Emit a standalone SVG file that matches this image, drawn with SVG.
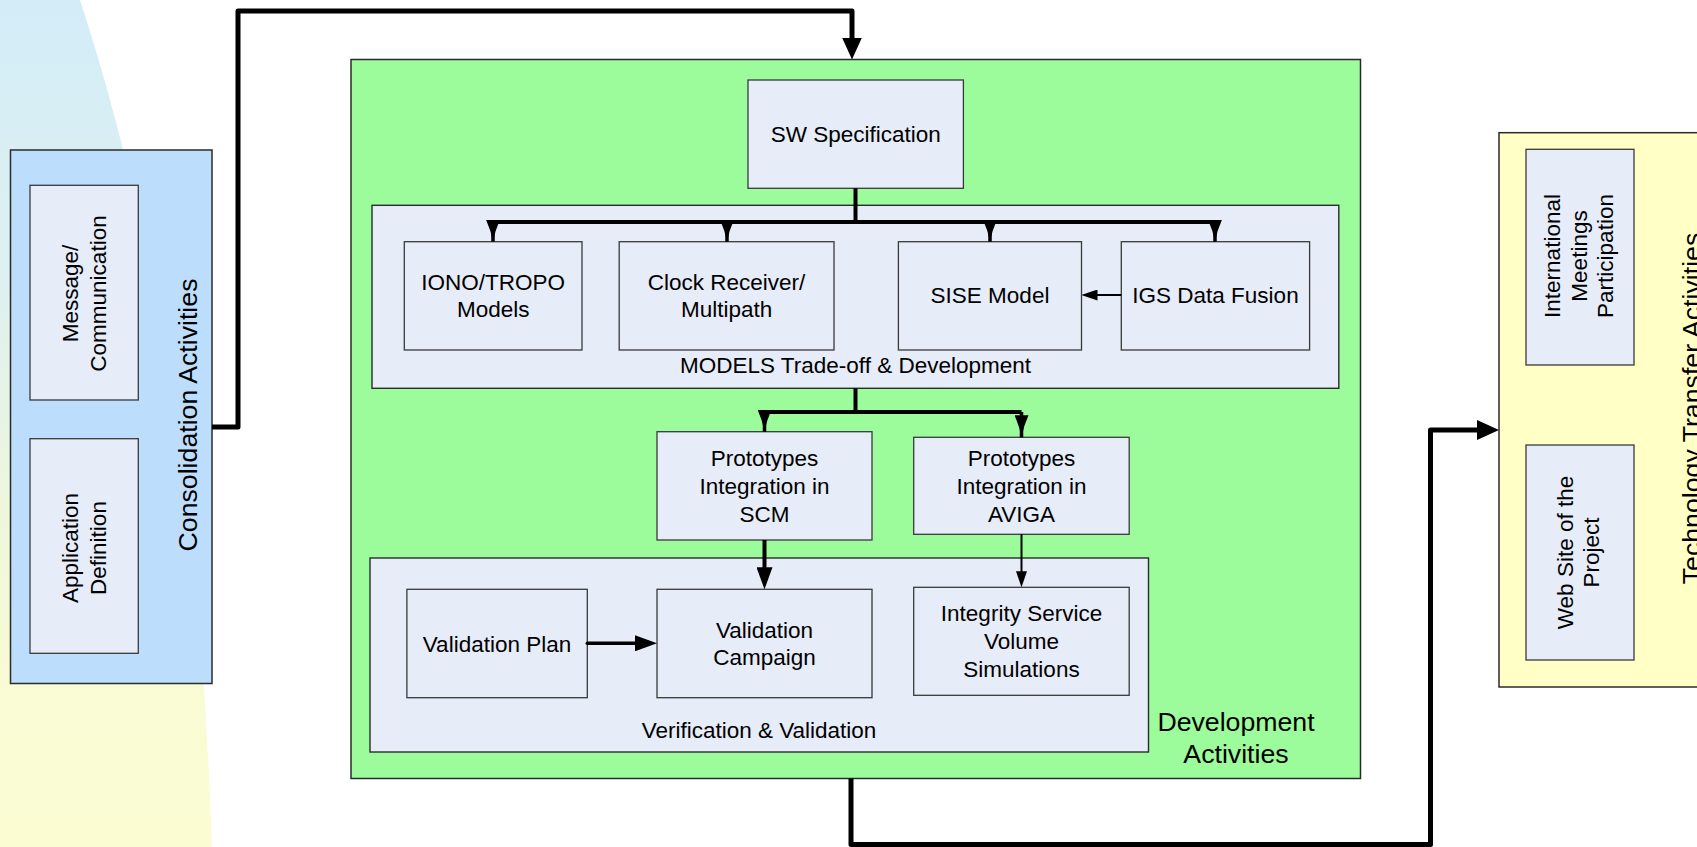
<svg xmlns="http://www.w3.org/2000/svg" width="1697" height="847" viewBox="0 0 1697 847">
  <defs>
    <linearGradient id="bgFade" gradientUnits="userSpaceOnUse" x1="0" y1="0" x2="0" y2="847">
      <stop offset="0" stop-color="#d3ecf8"/>
      <stop offset="0.35" stop-color="#def1ef"/>
      <stop offset="0.6" stop-color="#eef7dc"/>
      <stop offset="0.8" stop-color="#f8fbd4"/>
      <stop offset="1" stop-color="#fbfcd2"/>
    </linearGradient>
    <!-- large filled head for 5px flow lines -->
    <marker id="headBig" markerUnits="userSpaceOnUse" viewBox="0 0 22 20" markerWidth="22" markerHeight="20" refX="8" refY="10" orient="auto">
      <path d="M0,0 L22,10 L0,20 Z" fill="#000"/>
    </marker>
    <!-- medium head for 4px lines -->
    <marker id="headMid" markerUnits="userSpaceOnUse" viewBox="0 0 22 16" markerWidth="22" markerHeight="16" refX="8" refY="8" orient="auto">
      <path d="M0,0 L22,8 L0,16 Z" fill="#000"/>
    </marker>
    <!-- small head for thin lines -->
    <marker id="headSmall" markerUnits="userSpaceOnUse" viewBox="0 0 16 11" markerWidth="16" markerHeight="11" refX="6" refY="5.5" orient="auto">
      <path d="M0,0 L16,5.5 L0,11 Z" fill="#000"/>
    </marker>
    <!-- narrow tapered head on the bus drops -->
    <marker id="headNarrow" markerUnits="userSpaceOnUse" viewBox="0 0 22 14" markerWidth="22" markerHeight="14" refX="22" refY="7" orient="auto">
      <path d="M0,0 Q11,5 22,7 Q11,9 0,14 Z" fill="#000"/>
    </marker>
  </defs>
  <style>
    .panel { stroke: #2b2b2b; stroke-width: 1.5; }
    .box { fill: #e6ecf8; stroke: #3a3a3a; stroke-width: 1.3; }
    .group { fill: #e6ecf8; stroke: #2b2b2b; stroke-width: 1.4; }
    text { font-family: "Liberation Sans", Arial, Helvetica, sans-serif; fill: #000; }
    .lbl { font-size: 22.5px; text-anchor: middle; }
    .title { font-size: 26.7px; text-anchor: middle; }
    .flow { fill: none; stroke: #000; stroke-linejoin: round; }
  </style>

  <rect x="0" y="0" width="1697" height="847" fill="#ffffff"/>
  <!-- soft backdrop on the left -->
  <path d="M0,0 H80 Q195,350 212,847 H0 Z" fill="url(#bgFade)"/>

  <!-- Consolidation panel -->
  <g id="consolidation">
    <rect class="panel" x="10.5" y="150" width="201.5" height="533.5" fill="#bcdefc"/>
    <text class="title" transform="translate(197.4,415) rotate(-90)" x="0" y="0">Consolidation Activities</text>
  </g>
  <g id="message">
    <rect class="box" x="30" y="185.3" width="108.3" height="214.7"/>
    <text class="lbl" transform="translate(84,293.5) rotate(-90)"><tspan x="0" y="-6">Message/</tspan><tspan x="0" y="22">Communication</tspan></text>
  </g>
  <g id="application">
    <rect class="box" x="30" y="438.7" width="108.3" height="214.6"/>
    <text class="lbl" transform="translate(84,548) rotate(-90)"><tspan x="0" y="-6">Application</tspan><tspan x="0" y="22">Definition</tspan></text>
  </g>

  <!-- Development panel -->
  <g id="development">
    <rect class="panel" x="351" y="59.5" width="1009.5" height="719" fill="#9cfc9c"/>
    <text class="title"><tspan x="1236" y="731">Development</tspan><tspan x="1236" y="762.5">Activities</tspan></text>
  </g>
  <g id="sw-spec">
    <rect class="box" x="748" y="80" width="215.4" height="108.3"/>
    <text class="lbl" x="855.7" y="142">SW Specification</text>
  </g>
  <g id="models">
    <rect class="group" x="372" y="205.3" width="966.8" height="183"/>
    <text class="lbl" x="855.5" y="373">MODELS Trade-off &amp; Development</text>
  </g>
  <g id="iono-tropo">
    <rect class="box" x="404.3" y="241.7" width="177.7" height="108.3"/>
    <text class="lbl"><tspan x="493.2" y="289.5">IONO/TROPO</tspan><tspan x="493.2" y="317">Models</tspan></text>
  </g>
  <g id="clock-receiver">
    <rect class="box" x="619.2" y="241.7" width="214.8" height="108.3"/>
    <text class="lbl"><tspan x="726.6" y="289.5">Clock Receiver/</tspan><tspan x="726.6" y="317">Multipath</tspan></text>
  </g>
  <g id="sise-model">
    <rect class="box" x="898.4" y="241.7" width="183.1" height="108.3"/>
    <text class="lbl" x="990" y="303">SISE Model</text>
  </g>
  <g id="igs-fusion">
    <rect class="box" x="1121.3" y="241.7" width="188.3" height="108.3"/>
    <text class="lbl" x="1215.5" y="303">IGS Data Fusion</text>
  </g>
  <g id="proto-scm">
    <rect class="box" x="657" y="431.7" width="215" height="108.3"/>
    <text class="lbl"><tspan x="764.5" y="465.5">Prototypes</tspan><tspan x="764.5" y="493.5">Integration in</tspan><tspan x="764.5" y="521.5">SCM</tspan></text>
  </g>
  <g id="proto-aviga">
    <rect class="box" x="913.7" y="437.3" width="215.5" height="97"/>
    <text class="lbl"><tspan x="1021.5" y="465.5">Prototypes</tspan><tspan x="1021.5" y="493.5">Integration in</tspan><tspan x="1021.5" y="521.5">AVIGA</tspan></text>
  </g>
  <g id="verification">
    <rect class="group" x="370" y="558" width="778.5" height="194"/>
    <text class="lbl" x="759" y="738">Verification &amp; Validation</text>
  </g>
  <g id="validation-plan">
    <rect class="box" x="406.9" y="589.3" width="180.4" height="108.4"/>
    <text class="lbl" x="497" y="651.5">Validation Plan</text>
  </g>
  <g id="validation-campaign">
    <rect class="box" x="657" y="589.3" width="215" height="108.4"/>
    <text class="lbl"><tspan x="764.5" y="638">Validation</tspan><tspan x="764.5" y="664.5">Campaign</tspan></text>
  </g>
  <g id="integrity-sim">
    <rect class="box" x="913.7" y="587.3" width="215.5" height="108"/>
    <text class="lbl"><tspan x="1021.5" y="621">Integrity Service</tspan><tspan x="1021.5" y="649">Volume</tspan><tspan x="1021.5" y="676.7">Simulations</tspan></text>
  </g>

  <!-- Technology transfer panel -->
  <g id="tech-transfer">
    <rect class="panel" x="1499" y="132.7" width="220" height="554.3" fill="#ffffc6"/>
    <text class="title" transform="translate(1701,408.5) rotate(-90)" x="0" y="0">Technology Transfer Activities</text>
  </g>
  <g id="meetings">
    <rect class="box" x="1526" y="149.3" width="108" height="215.7"/>
    <text class="lbl" transform="translate(1580,256) rotate(-90)"><tspan x="0" y="-20">International</tspan><tspan x="0" y="6.5">Meetings</tspan><tspan x="0" y="33">Participation</tspan></text>
  </g>
  <g id="website">
    <rect class="box" x="1526" y="445" width="108" height="215"/>
    <text class="lbl" transform="translate(1580,552.5) rotate(-90)"><tspan x="0" y="-7.3">Web Site of the</tspan><tspan x="0" y="19.3">Project</tspan></text>
  </g>

  <!-- Connectors -->
  <g id="connectors">
    <path class="flow" stroke-width="5" d="M212,427 H238 V11 H852 V45.5" marker-end="url(#headBig)"/>
    <path class="flow" stroke-width="5" d="M851,778.5 V844.5 H1430.5 V430 H1485" marker-end="url(#headBig)"/>

    <path class="flow" stroke-width="4" d="M855.5,188.3 V222"/>
    <path class="flow" stroke-width="4" d="M493,222 H1215"/>
    <path class="flow" stroke-width="3.5" d="M493,222 V241.7" marker-end="url(#headNarrow)"/>
    <path class="flow" stroke-width="3.5" d="M727,222 V241.7" marker-end="url(#headNarrow)"/>
    <path class="flow" stroke-width="3.5" d="M990,222 V241.7" marker-end="url(#headNarrow)"/>
    <path class="flow" stroke-width="3.5" d="M1215,222 V241.7" marker-end="url(#headNarrow)"/>

    <path class="flow" stroke-width="2" d="M1121.3,295 H1091.5" marker-end="url(#headSmall)"/>

    <path class="flow" stroke-width="4" d="M855.5,388.3 V412"/>
    <path class="flow" stroke-width="4" d="M764.5,412 H1021.5"/>
    <path class="flow" stroke-width="3.5" d="M764.5,412 V431.7" marker-end="url(#headNarrow)"/>
    <path class="flow" stroke-width="3.5" d="M1021.5,412 V437.3" marker-end="url(#headNarrow)"/>

    <path class="flow" stroke-width="4" d="M764.5,540 V575.3" marker-end="url(#headMid)"/>
    <path class="flow" stroke-width="2" d="M1021.5,534.3 V577.3" marker-end="url(#headSmall)"/>
    <path class="flow" stroke-width="3.5" stroke-linecap="round" d="M587.3,643.3 H643" marker-end="url(#headMid)"/>
  </g>
</svg>
